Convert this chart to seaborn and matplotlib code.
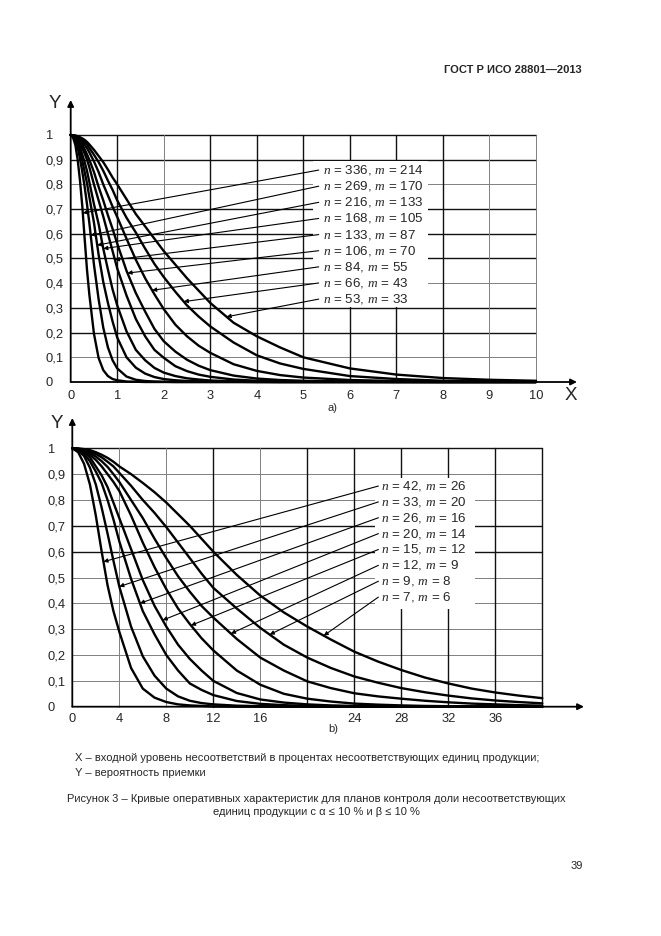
import numpy as np
import pandas as pd
import matplotlib
matplotlib.use("Agg")
import matplotlib.pyplot as plt
import seaborn as sns
from matplotlib.patches import Rectangle

sns.set_style("white")
plt.rcParams["font.family"] = ["Liberation Sans", "DejaVu Sans"]
plt.rcParams["mathtext.fontset"] = "custom"
plt.rcParams["mathtext.it"] = "Liberation Serif:italic"
plt.rcParams["mathtext.rm"] = "Liberation Sans"

# ---------------- data: panel a) ----------------
xa = [0, 0.05, 0.1, 0.15, 0.2, 0.25, 0.3, 0.35, 0.4, 0.5, 0.6, 0.7, 0.8, 0.9, 1.0,
      1.2, 1.4, 1.6, 1.8, 2.0, 2.25, 2.5, 2.75, 3, 3.5, 4, 4.5, 5, 6, 7, 8, 9, 10]
a_n = [336, 269, 216, 168, 133, 106, 84, 66, 53]
a_m = [214, 170, 133, 105, 87, 70, 55, 43, 33]
a_336 = [1, .99, .96, .90, .815, .71, .58, .455, .355, .195, .097, .048, .024, .012, .007,
         .002, .001, 0, 0, 0, 0, 0, 0, 0, 0, 0, 0, 0, 0, 0, 0, 0, 0]
a_269 = [1, .993, .975, .95, .905, .85, .79, .72, .645, .475, .335, .22, .14, .088, .055,
         .022, .009, .004, .002, .001, 0, 0, 0, 0, 0, 0, 0, 0, 0, 0, 0, 0, 0]
a_216 = [1, .995, .982, .962, .935, .895, .85, .805, .75, .645, .515, .405, .32, .245, .18,
         .10, .058, .034, .02, .012, .007, .004, .003, .002, .001, 0, 0, 0, 0, 0, 0, 0, 0]
a_168 = [1, .995, .985, .97, .95, .92, .89, .855, .81, .72, .64, .54, .455, .375, .31,
         .205, .13, .088, .057, .038, .024, .015, .01, .006, .003, .001, 0, 0, 0, 0, 0, 0, 0]
a_133 = [1, .997, .99, .978, .965, .945, .925, .90, .87, .80, .735, .67, .60, .53, .46,
         .35, .255, .185, .13, .098, .064, .044, .03, .021, .01, .005, .003, .002, .001, 0, 0, 0, 0]
a_106 = [1, .998, .992, .983, .972, .96, .942, .922, .90, .85, .79, .735, .675, .62, .56,
         .45, .36, .285, .215, .165, .123, .09, .066, .048, .026, .014, .008, .005, .002, .001, 0, 0, 0]
a_84 = [1, .998, .994, .988, .98, .97, .96, .947, .93, .893, .85, .80, .755, .71, .668,
        .58, .495, .42, .355, .295, .232, .185, .147, .118, .072, .045, .028, .018, .008, .004, .002, .001, .0005]
a_66 = [1, .999, .997, .992, .986, .979, .97, .962, .948, .92, .89, .855, .815, .778, .735,
        .665, .605, .54, .478, .425, .365, .31, .265, .225, .16, .108, .075, .053, .024, .012, .005, .003, .0015]
a_53 = [1, .999, .998, .995, .991, .986, .98, .972, .962, .94, .915, .89, .86, .828, .80,
        .74, .68, .63, .58, .53, .475, .42, .37, .32, .24, .185, .14, .10, .055, .03, .016, .009, .005]
a_curves = [a_336, a_269, a_216, a_168, a_133, a_106, a_84, a_66, a_53]
a_arrow_x = [0.26, 0.43, 0.57, 0.70, 0.95, 1.22, 1.75, 2.43, 3.35]
a_xticks = [0, 1, 2, 3, 4, 5, 6, 7, 8, 9, 10]
a_xticklabels = ["0", "1", "2", "3", "4", "5", "6", "7", "8", "9", "10"]

# ---------------- data: panel b) ----------------
xb = [0, 0.5, 1, 1.5, 2, 2.5, 3, 3.5, 4, 5, 6, 7, 8, 9, 10, 11, 12,
      14, 16, 18, 20, 22, 24, 26, 28, 30, 32, 34, 36, 38, 40]
b_n = [42, 33, 26, 20, 15, 12, 9, 7]
b_m = [26, 20, 16, 14, 12, 9, 8, 6]
b_42 = [1, .985, .94, .86, .74, .60, .47, .37, .29, .15, .07, .035, .018, .009, .005, .003, .001,
        0, 0, 0, 0, 0, 0, 0, 0, 0, 0, 0, 0, 0, 0]
b_33 = [1, .992, .97, .925, .86, .77, .67, .565, .465, .31, .195, .12, .07, .04, .023, .014, .009,
        .004, .002, .001, 0, 0, 0, 0, 0, 0, 0, 0, 0, 0, 0]
b_26 = [1, .995, .978, .95, .91, .865, .80, .725, .64, .495, .37, .28, .20, .14, .09, .065, .045,
        .022, .011, .006, .003, .002, .001, 0, 0, 0, 0, 0, 0, 0, 0]
b_20 = [1, .997, .985, .965, .93, .895, .85, .79, .73, .61, .49, .39, .31, .24, .185, .14, .10,
        .053, .028, .016, .009, .005, .003, .002, .001, 0, 0, 0, 0, 0, 0]
b_15 = [1, .997, .99, .975, .955, .93, .90, .87, .835, .74, .635, .54, .455, .38, .32, .265, .218,
        .14, .085, .05, .031, .02, .012, .008, .005, .003, .002, .001, .001, 0, 0]
b_12 = [1, .998, .992, .982, .968, .95, .928, .90, .87, .80, .73, .65, .575, .505, .445, .39, .345,
        .262, .19, .14, .098, .072, .052, .04, .031, .023, .017, .012, .009, .006, .004]
b_9 = [1, .999, .995, .988, .978, .965, .948, .93, .905, .855, .80, .75, .695, .635, .575, .515, .46,
       .38, .305, .24, .19, .15, .117, .093, .072, .056, .043, .032, .024, .018, .013]
b_7 = [1, .999, .997, .993, .985, .975, .963, .948, .93, .90, .866, .83, .79, .745, .70, .65, .60,
       .51, .43, .365, .31, .26, .213, .175, .142, .113, .09, .07, .055, .043, .033]
b_curves = [b_42, b_33, b_26, b_20, b_15, b_12, b_9, b_7]
b_arrow_x = [2.65, 4.0, 5.76, 7.69, 10.1, 13.5, 16.8, 21.4]
b_xticks = [0, 4, 8, 12, 16, 20, 24, 28, 32, 36, 40]
b_xticklabels = ["0", "4", "8", "12", "16", "", "24", "28", "32", "36", ""]

y_ticks = [0, 0.1, 0.2, 0.3, 0.4, 0.5, 0.6, 0.7, 0.8, 0.9, 1.0]
y_ticklabels = ["0", "0,1", "0,2", "0,3", "0,4", "0,5", "0,6", "0,7", "0,8", "0,9", "1"]

W, H = 661, 936
fig = plt.figure(figsize=(W / 100, H / 100), dpi=100)


def fx(px):
    return px / W


def fy(py):
    return 1 - py / H


def panel(ax, x, curves, ns, ms, xmax, xticks, xticklabels, arrow_x,
          label_x, line_x, label_y0, label_dy, box, heavy_h, heavy_v,
          ext_x, ext_y, xpad):
    ax.set_xlim(0, xmax)
    ax.set_ylim(0, 1)
    for s in ax.spines.values():
        s.set_visible(False)
    # grid
    for yv in y_ticks[1:]:
        hv = any(abs(yv - h) < 1e-9 for h in heavy_h)
        ax.axhline(yv, color="#111111" if hv else "#808080", lw=1.0 if hv else 0.7,
                   zorder=0.5, clip_on=False)
    for xv in xticks[1:]:
        hv = xv in heavy_v
        ax.axvline(xv, color="#111111" if hv else "#808080", lw=1.0 if hv else 0.7,
                   zorder=0.5, clip_on=False)
    # white label box
    ax.add_patch(Rectangle((box[0], box[1]), box[2] - box[0], box[3] - box[1],
                           facecolor="white", edgecolor="none", zorder=1))
    # curves
    rows = []
    for k, yv in enumerate(curves):
        for xi, yi in zip(x, yv):
            rows.append((k, xi, yi))
    df = pd.DataFrame(rows, columns=["curve", "x", "y"])
    sns.lineplot(data=df, x="x", y="y", units="curve", estimator=None, color="black",
                 lw=1.7, ax=ax, legend=False, sort=False, zorder=3, clip_on=False)
    # labels + arrows
    for k, (n, m) in enumerate(zip(ns, ms)):
        ly = label_y0 - k * label_dy
        ax.text(label_x, ly, rf"$n$ = {n}, $m$ = {m}", fontsize=9.6, va="center",
                ha="left", zorder=4)
        tx = arrow_x[k]
        ty = float(np.interp(tx, x, curves[k]))
        ax.annotate("", xy=(tx, ty), xytext=(line_x, ly),
                    arrowprops=dict(arrowstyle="-|>", lw=0.8, color="black",
                                    mutation_scale=6, shrinkA=0, shrinkB=0),
                    zorder=4)
    # axis arrows
    ax.annotate("", xy=(ext_x, 0), xytext=(0, 0), xycoords="axes fraction",
                arrowprops=dict(arrowstyle="-|>", lw=1.3, color="black",
                                mutation_scale=9, shrinkA=0, shrinkB=0),
                annotation_clip=False, zorder=5)
    ax.annotate("", xy=(0, ext_y), xytext=(0, 0), xycoords="axes fraction",
                arrowprops=dict(arrowstyle="-|>", lw=1.3, color="black",
                                mutation_scale=9, shrinkA=0, shrinkB=0),
                annotation_clip=False, zorder=5)
    # ticks
    ax.set_xticks(xticks)
    ax.set_xticklabels(xticklabels)
    ax.set_yticks(y_ticks)
    ax.set_yticklabels(y_ticklabels)
    for t in ax.get_yticklabels():
        t.set_horizontalalignment("left")
    ax.tick_params(axis="x", length=0, pad=xpad, labelsize=9.3)
    ax.tick_params(axis="y", length=0, pad=17.8, labelsize=9.3)
    ax.set_xlabel("")
    ax.set_ylabel("")


axa = fig.add_axes([fx(70.7), fy(382), (536 - 70.7) / W, 247 / H])
panel(axa, xa, a_curves, a_n, a_m, 10, a_xticks, a_xticklabels, a_arrow_x,
      label_x=5.42, line_x=5.33, label_y0=0.858, label_dy=0.0653,
      box=(5.21, 0.305, 7.67, 0.895),
      heavy_h=[0.2, 0.3, 0.5, 0.6, 0.7, 0.9, 1.0], heavy_v=[1, 3, 4, 5, 6, 7, 8],
      ext_x=(577 - 70.7) / 465.3, ext_y=(382 - 100) / 247, xpad=6.0)

axb = fig.add_axes([fx(72.3), fy(706.7), 470 / W, 258.4 / H])
panel(axb, xb, b_curves, b_n, b_m, 40, b_xticks, b_xticklabels, b_arrow_x,
      label_x=26.25, line_x=26.05, label_y0=0.854, label_dy=0.0614,
      box=(25.8, 0.38, 34.3, 0.885),
      heavy_h=[0.6, 0.7, 1.0], heavy_v=[12, 20, 24, 28, 32, 36, 40],
      ext_x=(584 - 72.3) / 470, ext_y=(706.7 - 418) / 258.4, xpad=4.8)

# texts
fig.text(fx(582), fy(70), "ГОСТ Р ИСО 28801—2013", ha="right", va="center",
         fontsize=8, fontweight="bold")
fig.text(fx(55), fy(104), "Y", ha="center", va="center", fontsize=13.5)
fig.text(fx(57), fy(423), "Y", ha="center", va="center", fontsize=13.5)
fig.text(fx(571), fy(395), "X", ha="center", va="center", fontsize=13.5)
fig.text(fx(333), fy(408), "a)", ha="center", va="center", fontsize=8)
fig.text(fx(333), fy(729), "b)", ha="center", va="center", fontsize=8)
fig.text(fx(75), fy(758),
         "X – входной уровень несоответствий в процентах несоответствующих единиц продукции;",
         ha="left", va="center", fontsize=8)
fig.text(fx(75), fy(773), "Y – вероятность приемки", ha="left", va="center", fontsize=8)
fig.text(fx(316), fy(799),
         "Рисунок 3 – Кривые оперативных характеристик для планов контроля доли несоответствующих",
         ha="center", va="center", fontsize=8)
fig.text(fx(316), fy(812), "единиц продукции с α ≤ 10 % и β ≤ 10 %",
         ha="center", va="center", fontsize=8)
fig.text(fx(577), fy(866), "39", ha="center", va="center", fontsize=8)

fig.savefig("out.png", dpi=100)
